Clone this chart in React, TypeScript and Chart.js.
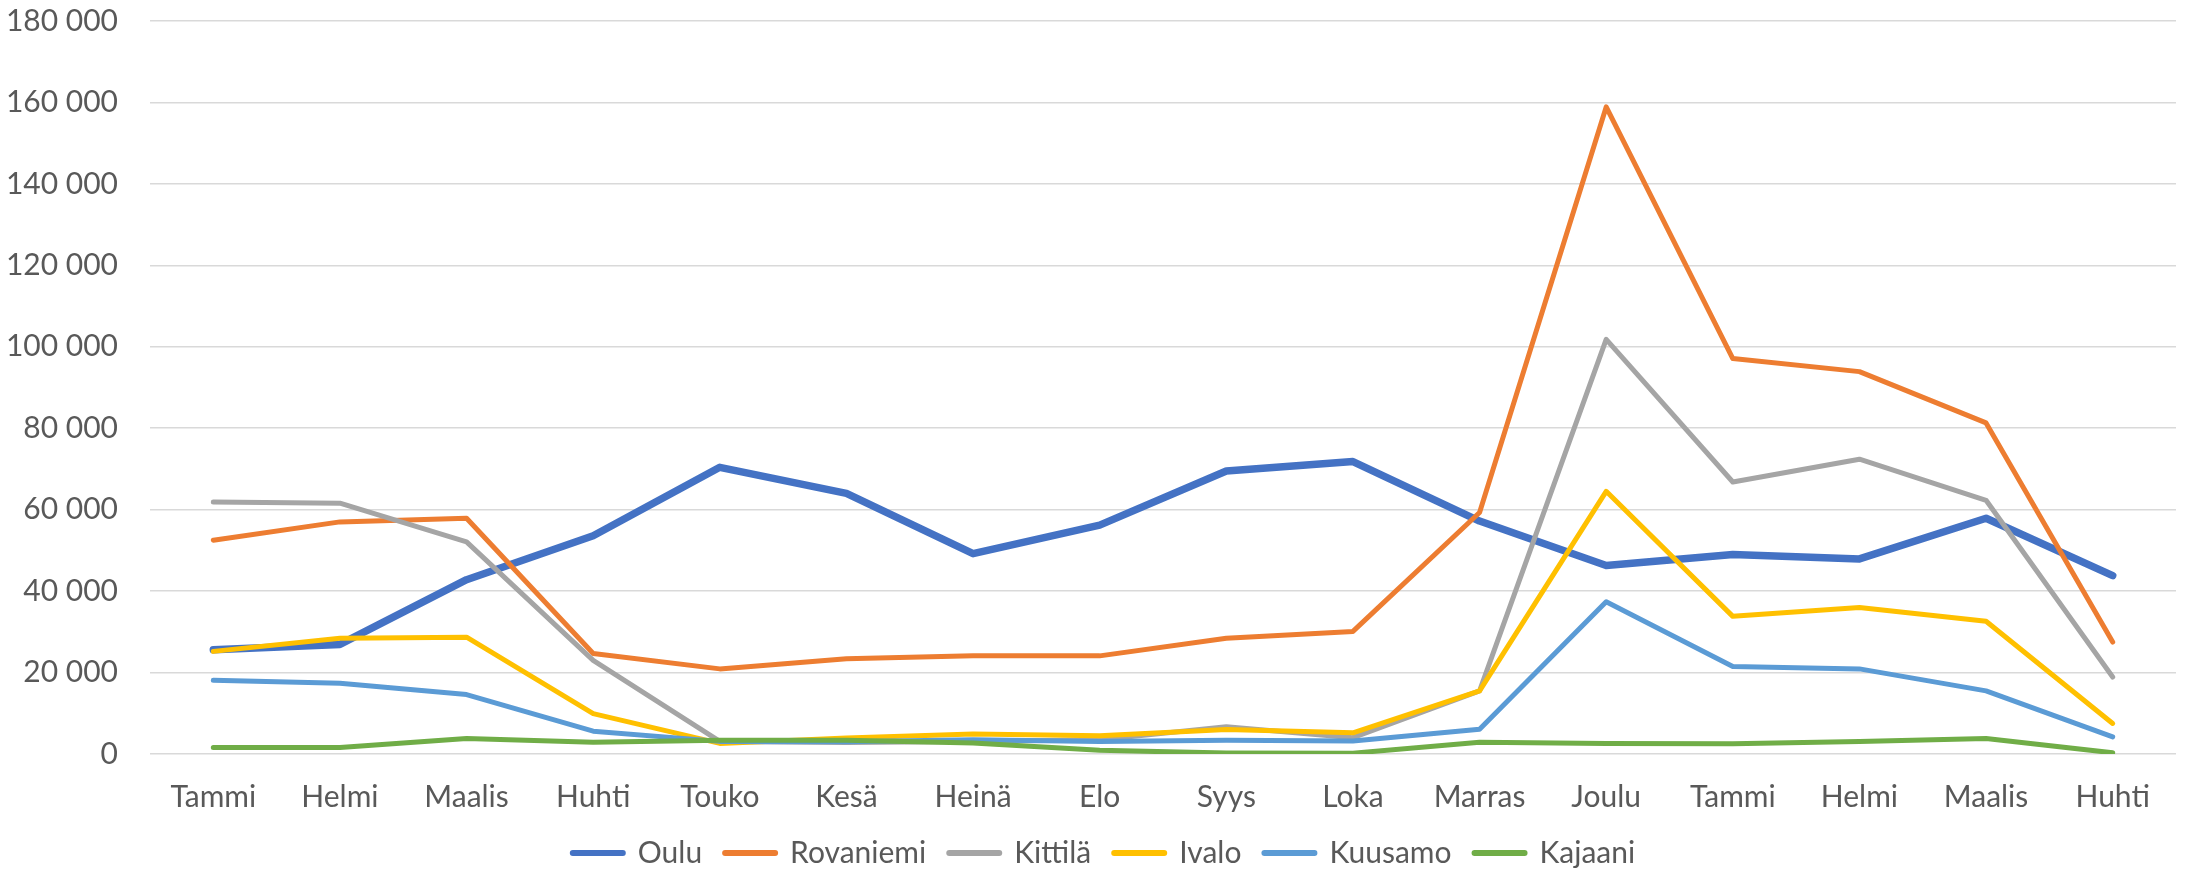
import React, { useEffect, useRef } from "react";
import { Chart, registerables } from "chart.js";

Chart.register(...registerables);

const categories = ["Tammi", "Helmi", "Maalis", "Huhti", "Touko", "Kesä", "Heinä", "Elo", "Syys", "Loka", "Marras", "Joulu", "Tammi", "Helmi", "Maalis", "Huhti"];

const oulu = [25600, 26900, 42800, 53600, 70400, 64000, 49200, 56200, 69500, 71800, 57200, 46300, 49000, 47900, 57900, 43800];
const rovaniemi = [52500, 57000, 57900, 24700, 20900, 23400, 24100, 24100, 28400, 30100, 59300, 158900, 97100, 93900, 81300, 27500];
const kittila = [61900, 61600, 52100, 23000, 3100, 2800, 3100, 3500, 6700, 4000, 15500, 101800, 66800, 72400, 62300, 18900];
const ivalo = [25200, 28400, 28700, 9900, 2600, 3900, 4900, 4500, 6000, 5200, 15500, 64500, 33800, 36000, 32600, 7500];
const kuusamo = [18100, 17400, 14600, 5600, 3100, 3000, 3500, 3100, 3400, 3200, 6100, 37400, 21500, 20900, 15500, 4200];
const kajaani = [1600, 1600, 3800, 2900, 3400, 3400, 2700, 900, 250, 200, 2900, 2600, 2500, 3100, 3800, 300];

const seriesNames = ["Oulu", "Rovaniemi", "Kittilä", "Ivalo", "Kuusamo", "Kajaani"];
const seriesData = [oulu, rovaniemi, kittila, ivalo, kuusamo, kajaani];
const seriesColors = ["#4472C4", "#ED7D31", "#A5A5A5", "#FFC000", "#5B9BD5", "#70AD47"];
const seriesWidths = [7.5, 5, 5, 5, 5, 5];

const yMin = 0;
const yMax = 180000;
const yStep = 20000;

const FONT = "Lato, 'Open Sans', sans-serif";
const FONT_SIZE = 30;

function formatThousands(v: number): string {
  return String(Math.round(v)).replace(/\B(?=(\d{3})+(?!\d))/g, " ");
}

const legendShift = {
  id: "legendShift",
  afterLayout(chart: any) {
    const lg = chart.legend;
    if (lg) {
      lg.left += 16;
      lg.right += 16;
    }
  },
};

export default function App() {
  const canvasRef = useRef<HTMLCanvasElement | null>(null);

  useEffect(() => {
    document.body.style.margin = "0";
    const canvas = canvasRef.current;
    if (!canvas) return;
    const n = seriesNames.length;
    const chart = new Chart(canvas, {
      type: "line",
      data: {
        labels: categories,
        datasets: seriesNames.map((name, i) => ({
          label: name,
          data: seriesData[i],
          borderColor: seriesColors[i],
          backgroundColor: seriesColors[i],
          borderWidth: seriesWidths[i],
          borderCapStyle: "round" as const,
          borderJoinStyle: "round" as const,
          pointRadius: 0,
          pointHoverRadius: 0,
          tension: 0,
          fill: false,
          order: n - 1 - i,
        })),
      },
      plugins: [legendShift],
      options: {
        animation: false,
        responsive: true,
        maintainAspectRatio: false,
        layout: { padding: { top: 21, right: 14, left: 0, bottom: 0 } },
        plugins: {
          tooltip: { enabled: false },
          legend: {
            position: "bottom",
            maxHeight: 59,
            labels: {
              usePointStyle: true,
              pointStyleWidth: 50,
              padding: 23,
              color: "#595959",
              font: { family: FONT, size: FONT_SIZE },
              sort: (a: any, b: any) => a.datasetIndex - b.datasetIndex,
              generateLabels: (ch: any) =>
                Chart.defaults.plugins.legend.labels.generateLabels(ch).map((l: any) => ({
                  ...l,
                  pointStyle: "line",
                  lineWidth: 6,
                  lineCap: "round",
                })),
            },
          },
        },
        scales: {
          x: {
            type: "category",
            offset: true,
            grid: { display: false, drawTicks: false },
            border: { display: false },
            ticks: {
              color: "#595959",
              font: { family: FONT, size: FONT_SIZE },
              padding: 25,
              maxRotation: 0,
              autoSkip: false,
            },
            afterFit: (scale: any) => {
              scale.height = 61;
            },
          },
          y: {
            min: yMin,
            max: yMax,
            grid: { color: "#D9D9D9", lineWidth: 1.5, drawTicks: false },
            border: { display: false },
            ticks: {
              stepSize: yStep,
              color: "#595959",
              font: { family: FONT, size: FONT_SIZE },
              padding: 32,
              callback: (v: any) => formatThousands(Number(v)),
            },
            afterFit: (scale: any) => {
              scale.width = 150;
              scale.paddingTop = 0;
              scale.paddingBottom = 0;
            },
          },
        },
      },
    });
    return () => chart.destroy();
  }, []);

  return (
    <div style={{ width: 2190, height: 874, position: "relative", background: "#fff" }}>
      <canvas ref={canvasRef} />
    </div>
  );
}
